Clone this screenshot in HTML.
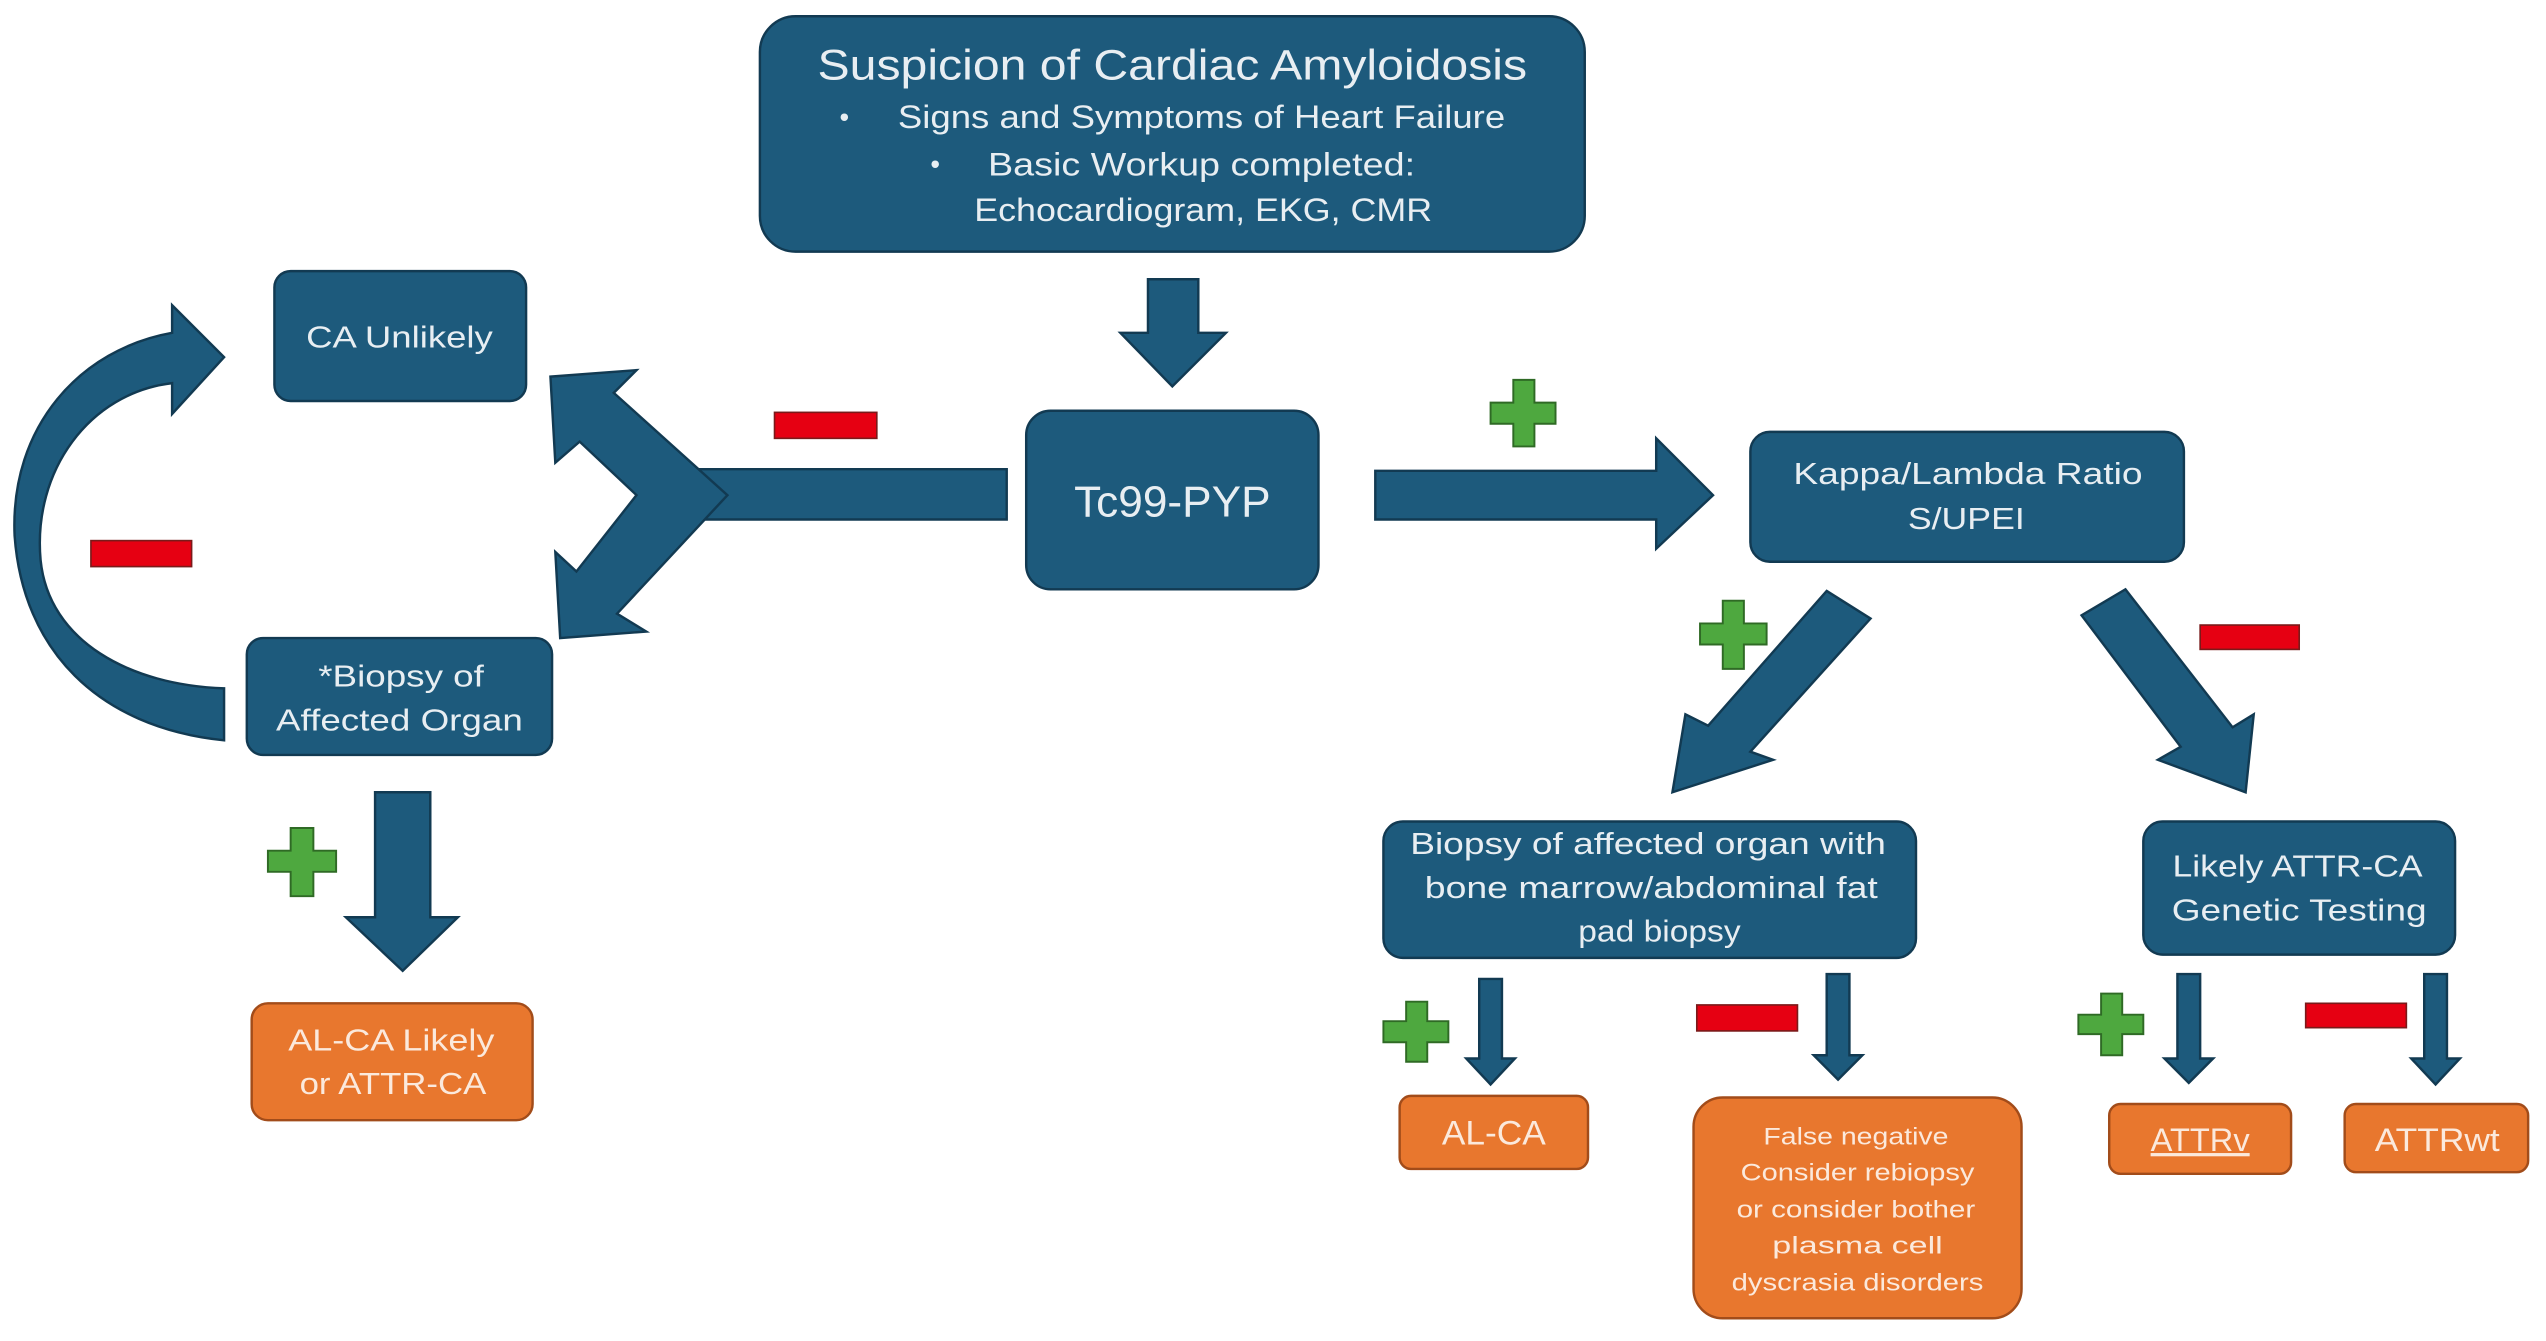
<!DOCTYPE html>
<html><head><meta charset="utf-8"><style>
html,body{margin:0;padding:0;background:#fff;}
svg{display:block;}
text{font-family:"Liberation Sans",sans-serif;fill:#e8eef2;text-anchor:middle;}
.o text{fill:#fbe9dc;}
</style></head><body>
<svg width="2546" height="1341" viewBox="0 0 1568 826" preserveAspectRatio="none" xmlns="http://www.w3.org/2000/svg">
<g fill="#1d5a7c" stroke="#123a52" stroke-width="1.5">
<rect x="468" y="10" width="508" height="145" rx="22"/>
<rect x="632" y="253" width="180" height="110" rx="15"/>
<rect x="169" y="167" width="155" height="80" rx="10"/>
<rect x="152" y="393" width="188" height="72" rx="10"/>
<rect x="1078" y="266" width="267" height="80" rx="12"/>
<rect x="852" y="506" width="328" height="84" rx="12"/>
<rect x="1320" y="506" width="192" height="82" rx="12"/>
<polygon points="707,172 738,172 738,205 755,205 722,238 690,205 707,205"/>
<polygon points="847,290 1020,290 1020,270 1055,305 1020,338 1020,320 847,320"/>
<polygon points="420,289 620,289 620,320 420,320"/>
<polygon points="339,232 392,228 378,242 448,305 380,378 398,389 345,393 342,340 355,352 392,305 357,272 342,285"/>
<polygon points="231,488 265,488 265,565 282,565 248,598 213,565 231,565"/>
<path d="M138,456 C60,448 14,400 9,330 C6,262 50,215 106,205 L106,188 L138,220 L106,255 L106,236 C55,242 20,290 25,345 C30,395 80,422 138,424 Z"/>
<polygon points="1125,364 1152,381 1078,463 1092,468 1030,488 1038,440 1052,447"/>
<polygon points="1282,379 1309,363 1375,448 1388,440 1383,488 1329,468 1343,460"/>
<polygon points="911,603 925,603 925,652 933,652 918,668 903,652 911,652"/>
<polygon points="1125,600 1139,600 1139,650 1147,650 1132,665 1117,650 1125,650"/>
<polygon points="1341,600 1355,600 1355,652 1363,652 1348,667 1333,652 1341,652"/>
<polygon points="1493,600 1507,600 1507,652 1515,652 1500,668 1485,652 1493,652"/>
</g>
<g class="o" fill="#e8772e" stroke="#a24c1a" stroke-width="1.5">
<rect x="155" y="618" width="173" height="72" rx="10"/>
<rect x="862" y="675" width="116" height="45" rx="7"/>
<rect x="1043" y="676" width="202" height="136" rx="18"/>
<rect x="1299" y="680" width="112" height="43" rx="7"/>
<rect x="1444" y="680" width="113" height="42" rx="7"/>
</g>
<g fill="#e60012" stroke="#7a1a1a" stroke-width="1">
<rect x="477" y="254" width="63" height="16"/>
<rect x="56" y="333" width="62" height="16"/>
<rect x="1355" y="385" width="61" height="15"/>
<rect x="1045" y="619" width="62" height="16"/>
<rect x="1420" y="618" width="62" height="15"/>
</g>
<g fill="#4ea83f" stroke="#2f6a25" stroke-width="1.2">
<path d="M932,234h13v14h13v13h-13v14h-13v-14h-14v-13h14z"/>
<path d="M1061,370h13v14h14v13h-14v15h-13v-15h-14v-13h14z"/>
<path d="M179,510h14v14h14v13h-14v15h-14v-15h-14v-13h14z"/>
<path d="M866,617h13v12h13v13h-13v12h-13v-12h-14v-13h14z"/>
<path d="M1294,612h13v13h13v12h-13v13h-13v-13h-14v-12h14z"/>
</g>
<g lengthAdjust="spacingAndGlyphs">
<text x="722" y="49" font-size="26" textLength="437" lengthAdjust="spacingAndGlyphs">Suspicion of Cardiac Amyloidosis</text>
<text x="520" y="78" font-size="17">•</text>
<text x="740" y="79" font-size="20" textLength="374" lengthAdjust="spacingAndGlyphs">Signs and Symptoms of Heart Failure</text>
<text x="576" y="107" font-size="17">•</text>
<text x="740" y="108" font-size="20" textLength="263" lengthAdjust="spacingAndGlyphs">Basic Workup completed:</text>
<text x="741" y="136" font-size="20" textLength="282" lengthAdjust="spacingAndGlyphs">Echocardiogram, EKG, CMR</text>
<text x="722" y="318" font-size="27" textLength="121" lengthAdjust="spacingAndGlyphs">Tc99-PYP</text>
<text x="246" y="214" font-size="19" textLength="115" lengthAdjust="spacingAndGlyphs">CA Unlikely</text>
<text x="247" y="423" font-size="19" textLength="102" lengthAdjust="spacingAndGlyphs">*Biopsy of</text>
<text x="246" y="450" font-size="19" textLength="152" lengthAdjust="spacingAndGlyphs">Affected Organ</text>
<text x="1212" y="298" font-size="19" textLength="215" lengthAdjust="spacingAndGlyphs">Kappa/Lambda Ratio</text>
<text x="1211" y="326" font-size="19" textLength="72" lengthAdjust="spacingAndGlyphs">S/UPEI</text>
<text x="1015" y="526" font-size="19" textLength="293" lengthAdjust="spacingAndGlyphs">Biopsy of affected organ with</text>
<text x="1017" y="553" font-size="19" textLength="279" lengthAdjust="spacingAndGlyphs">bone marrow/abdominal fat</text>
<text x="1022" y="580" font-size="19" textLength="100" lengthAdjust="spacingAndGlyphs">pad biopsy</text>
<text x="1415" y="540" font-size="19" textLength="154" lengthAdjust="spacingAndGlyphs">Likely ATTR-CA</text>
<text x="1416" y="567" font-size="19" textLength="157" lengthAdjust="spacingAndGlyphs">Genetic Testing</text>
</g>
<g class="o">
<text x="241" y="647" font-size="19" textLength="127" lengthAdjust="spacingAndGlyphs">AL-CA Likely</text>
<text x="242" y="674" font-size="19" textLength="115" lengthAdjust="spacingAndGlyphs">or ATTR-CA</text>
<text x="920" y="705" font-size="21" textLength="64" lengthAdjust="spacingAndGlyphs">AL-CA</text>
<text x="1143" y="705" font-size="15" textLength="114" lengthAdjust="spacingAndGlyphs">False negative</text>
<text x="1144" y="727" font-size="15" textLength="144" lengthAdjust="spacingAndGlyphs">Consider rebiopsy</text>
<text x="1143" y="750" font-size="15" textLength="147" lengthAdjust="spacingAndGlyphs">or consider bother</text>
<text x="1144" y="772" font-size="15" textLength="105" lengthAdjust="spacingAndGlyphs">plasma cell</text>
<text x="1144" y="795" font-size="15" textLength="155" lengthAdjust="spacingAndGlyphs">dyscrasia disorders</text>
<text x="1355" y="709" font-size="20" text-decoration="underline" textLength="61" lengthAdjust="spacingAndGlyphs">ATTRv</text>
<text x="1501" y="709" font-size="20" textLength="77" lengthAdjust="spacingAndGlyphs">ATTRwt</text>
</g>
</svg>
</body></html>
